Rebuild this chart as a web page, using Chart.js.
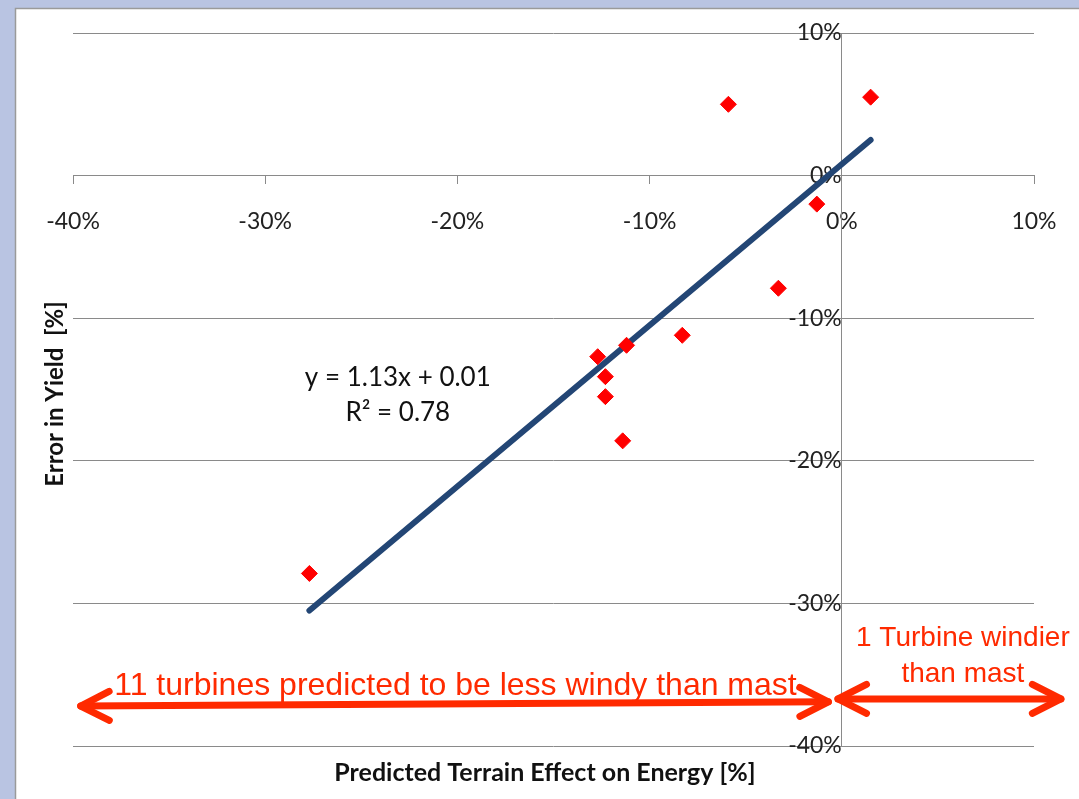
<!DOCTYPE html>
<html>
<head>
<meta charset="utf-8">
<script src="https://cdn.jsdelivr.net/npm/chart.js@4"></script>
<style>
  body { margin: 0; background: #b9c4e2; }
  canvas { display: block; }
</style>
</head>
<body>
<canvas id="myChart" width="1079" height="799"></canvas>
<script>
// measured turbines, x = predicted terrain effect, y = error in yield (both %)
const predicted = [-5.9, 1.5, -1.3, -3.3, -8.3, -11.2, -12.7, -12.3, -12.3, -11.4, -27.7];
const yieldError = [5.0, 5.5, -2.0, -7.9, -11.2, -11.9, -12.7, -14.1, -15.5, -18.6, -27.9];

// linear fit drawn in the original (ends)
const trendX = [-27.7, 1.5];
const trendY = [-30.5, 2.5];

const axisMin = -40;
const axisMax = 10;
const tickStep = 10;

const xTitle = "Predicted Terrain Effect on Energy [%]";
const yTitle = "Error in Yield  [%]";
const fitLabels = ["y = 1.13x + 0.01", "R\u00b2 = 0.78"];
const fitLabelX = -23.1;
const fitLabelY = [-14.2, -16.6];

// red call-outs, in data units
const leftArrow = { from: [-39.6, -37.2], to: [-0.7, -36.9] };
const rightArrow = { from: [-0.2, -36.7], to: [11.4, -36.7] };
const leftNote = { text: "11 turbines predicted to be less windy than mast", x: -20.1, y: -36.4 };
const rightNote = { lines: ["1 Turbine windier", "than mast"], x: 6.3, y: [-33.0, -35.5] };

const red = "#ff2a00";

const points = predicted.map((v, i) => ({ x: v, y: yieldError[i] }));
const trend = trendX.map((v, i) => ({ x: v, y: trendY[i] }));

function arrowHead(ctx, x0, y0, x1, y1) {
  const a = Math.atan2(y1 - y0, x1 - x0);
  const len = 32, spread = 0.47;
  ctx.beginPath();
  ctx.moveTo(x1 - len * Math.cos(a - spread), y1 - len * Math.sin(a - spread));
  ctx.lineTo(x1, y1);
  ctx.lineTo(x1 - len * Math.cos(a + spread), y1 - len * Math.sin(a + spread));
  ctx.stroke();
}

function drawArrow(ctx, xs, ys, arr, both) {
  const x0 = xs.getPixelForValue(arr.from[0]), y0 = ys.getPixelForValue(arr.from[1]);
  const x1 = xs.getPixelForValue(arr.to[0]), y1 = ys.getPixelForValue(arr.to[1]);
  ctx.beginPath();
  ctx.moveTo(x0, y0);
  ctx.lineTo(x1, y1);
  ctx.stroke();
  arrowHead(ctx, x0, y0, x1, y1);
  if (both) arrowHead(ctx, x1, y1, x0, y0);
}

// labels of the crossing axes shouldn't push the plot area around
function noPad(scale) {
  scale.paddingTop = 0;
  scale.paddingBottom = 0;
  scale.paddingLeft = 0;
  scale.paddingRight = 0;
}

const frame = {
  id: "frame",
  beforeDraw(chart) {
    const ctx = chart.ctx;
    ctx.save();
    ctx.fillStyle = "#b9c4e2";
    ctx.fillRect(0, 0, chart.width, chart.height);
    ctx.fillStyle = "#ffffff";
    ctx.fillRect(16, 9, chart.width - 16, chart.height - 9);
    ctx.strokeStyle = "#9a9a9a";
    ctx.lineWidth = 1.5;
    ctx.beginPath();
    ctx.moveTo(15.5, chart.height);
    ctx.lineTo(15.5, 8.5);
    ctx.lineTo(chart.width, 8.5);
    ctx.stroke();
    ctx.restore();
  },
  afterDraw(chart) {
    const ctx = chart.ctx;
    const xs = chart.scales.x, ys = chart.scales.y;
    ctx.save();
    // axis titles
    ctx.fillStyle = "#111";
    ctx.font = "bold 25px Lato";
    ctx.textAlign = "center";
    ctx.textBaseline = "middle";
    ctx.fillText(xTitle, 545, 773);
    ctx.font = "bold 24px Lato";
    ctx.translate(55, 394);
    ctx.rotate(-Math.PI / 2);
    ctx.fillText(yTitle, 0, 0);
    ctx.setTransform(1, 0, 0, 1, 0, 0);

    // fit equation
    ctx.font = "26px Lato";
    ctx.fillStyle = "#111";
    fitLabels.forEach((t, i) => {
      ctx.fillText(t, xs.getPixelForValue(fitLabelX), ys.getPixelForValue(fitLabelY[i]));
    });

    // arrows + notes
    ctx.strokeStyle = red;
    ctx.lineWidth = 7;
    ctx.lineCap = "round";
    ctx.lineJoin = "round";
    drawArrow(ctx, xs, ys, leftArrow, true);
    drawArrow(ctx, xs, ys, rightArrow, true);

    ctx.fillStyle = red;
    ctx.textBaseline = "alphabetic";
    ctx.font = "32px 'Liberation Sans'";
    ctx.fillText(leftNote.text, xs.getPixelForValue(leftNote.x), ys.getPixelForValue(leftNote.y));
    ctx.font = "28px 'Liberation Sans'";
    rightNote.lines.forEach((t, i) => {
      ctx.fillText(t, xs.getPixelForValue(rightNote.x), ys.getPixelForValue(rightNote.y[i]));
    });
    ctx.restore();
  }
};

new Chart(document.getElementById("myChart"), {
  type: "scatter",
  data: {
    datasets: [
      {
        label: "turbines",
        data: points,
        pointStyle: "rectRot",
        pointRadius: 8,
        pointBackgroundColor: "#ff0000",
        pointBorderColor: "#ff0000",
        pointBorderWidth: 1
      },
      {
        label: "fit",
        data: trend,
        showLine: true,
        pointRadius: 0,
        borderColor: "#234675",
        borderWidth: 6,
        borderCapStyle: "round"
      }
    ]
  },
  options: {
    responsive: false,
    animation: false,
    layout: { padding: { left: 73, right: 45, top: 33, bottom: 53 } },
    plugins: { legend: { display: false }, tooltip: { enabled: false } },
    scales: {
      x: {
        type: "linear",
        min: axisMin,
        max: axisMax,
        position: { y: 0 },
        afterFit: noPad,
        grid: { drawOnChartArea: false, drawTicks: true, tickLength: 8, color: "#8a8a8a" },
        border: { display: true, color: "#8a8a8a" },
        ticks: {
          stepSize: tickStep,
          padding: 24,
          color: "#222",
          font: { family: "Lato", size: 23 },
          callback: v => v + "%"
        }
      },
      y: {
        type: "linear",
        min: axisMin,
        max: axisMax,
        position: { x: 0 },
        afterFit: noPad,
        grid: { drawOnChartArea: true, drawTicks: false, color: "#8a8a8a" },
        border: { display: true, color: "#8a8a8a" },
        ticks: {
          stepSize: tickStep,
          padding: 24,
          color: "#222",
          font: { family: "Lato", size: 23 },
          callback: v => v + "%"
        }
      }
    }
  },
  plugins: [frame]
});
</script>
</body>
</html>
